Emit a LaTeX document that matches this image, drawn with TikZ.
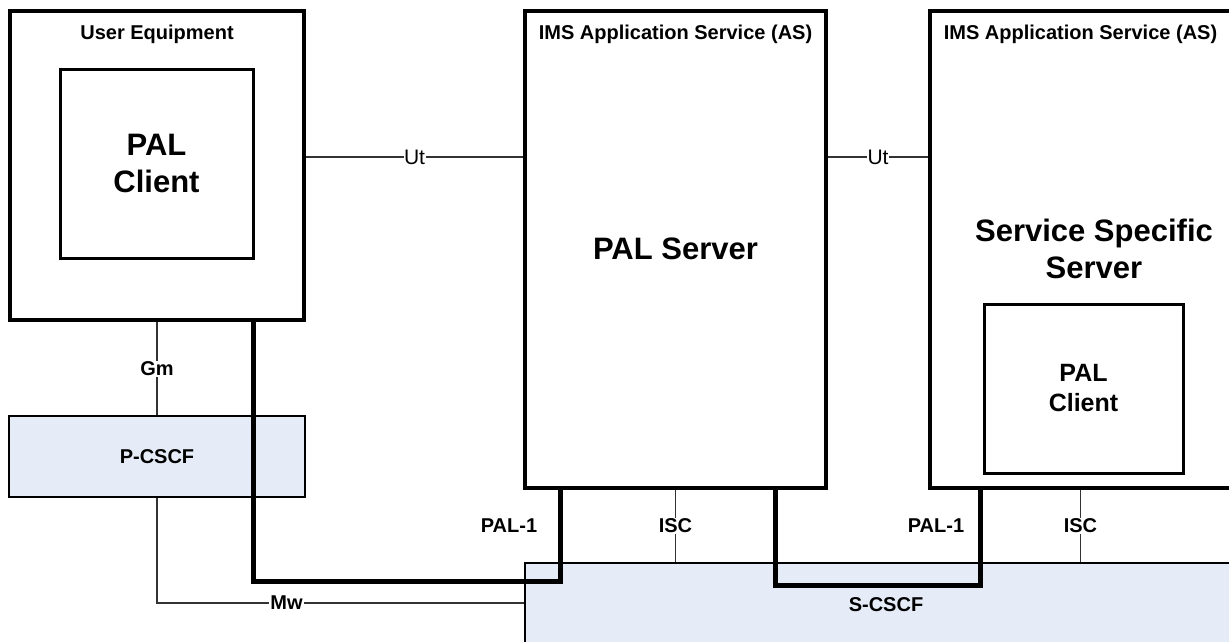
\documentclass[tikz,border=0pt]{standalone}
\usepackage{fontspec}
\setmainfont{Liberation Sans}
\definecolor{cscf}{RGB}{230,236,247}
\begin{document}
\begin{tikzpicture}[x=1pt,y=-1pt,
  outer/.style={draw, line width=4.5pt, inner sep=0pt, fill=white},
  innerbox/.style={draw, line width=3pt, inner sep=0pt, align=center},
  cscfbox/.style={draw, line width=2.2pt, fill=cscf, inner sep=0pt},
  thinline/.style={line width=1.2pt, draw=black!80},
  palpath/.style={line width=5pt, line join=miter},
  lab/.style={font=\fontsize{20}{22}\selectfont\bfseries, fill=white, inner sep=1pt},
  labr/.style={font=\fontsize{21}{22}\selectfont, fill=white, inner sep=0.5pt},
  plain/.style={font=\fontsize{20}{22}\selectfont\bfseries, inner sep=0pt},
  title/.style={font=\fontsize{20}{22}\selectfont\bfseries, anchor=base, inner sep=0pt},
  big/.style={font=\fontsize{31}{37}\selectfont\bfseries, align=center},
  mid/.style={font=\fontsize{25}{30}\selectfont\bfseries, align=center}]
\useasboundingbox (0,0) rectangle (1229,641);
\clip (0,0) rectangle (1229,641);

% boxes
\node[outer, minimum width=294pt, minimum height=309pt] (ue) at (157,165.5) {};
\node[innerbox, big, minimum width=193pt, minimum height=189pt] (uecl) at (156.5,163.5) {PAL\\Client};
\node[title] (uet) at (157,39.5) {User Equipment};

\node[outer, minimum width=301pt, minimum height=477pt] (as1) at (675.5,249.5) {};
\node[title] (as1t) at (675.5,39.5) {IMS Application Service (AS)};
\node[big] (pals) at (675.5,249) {PAL Server};

\node[outer, minimum width=301pt, minimum height=477pt] (as2) at (1080.5,249.5) {};
\node[title] (as2t) at (1080.5,39.5) {IMS Application Service (AS)};
\node[big] (sss) at (1094,249) {Service Specific\\Server};
\node[innerbox, mid, minimum width=199pt, minimum height=169pt] (as2cl) at (1083.5,388.5) {PAL\\Client};

\node[cscfbox, plain, minimum width=296pt, minimum height=81pt] (pcscf) at (157,456.5) {P-CSCF};
\node[cscfbox, minimum width=715pt, minimum height=97pt] (scscf) at (882.5,611.5) {};
\node[plain] (scscft) at (886,605) {S-CSCF};

% thin connectors
\coordinate (ut) at (0,157);
\coordinate (mw) at (0,603);
\draw[thinline] (ue.east |- ut) -- node[labr]{Ut} (as1.west |- ut);
\draw[thinline] (as1.east |- ut) -- node[labr]{Ut} (as2.west |- ut);
\draw[thinline] (ue.south) -- node[lab]{Gm} (pcscf.north);
\draw[thinline] (pcscf.south) -- (pcscf.south |- mw) -- node[lab, pos=0.353]{Mw} (scscf.west |- mw);
\draw[thinline] (as1.south) -- node[lab]{ISC} (as1.south |- scscf.north);
\draw[thinline] (as2.south) -- node[lab]{ISC} (as2.south |- scscf.north);

% PAL-1 thick connectors
\coordinate (k1) at (253,581);
\coordinate (k2) at (560,581);
\coordinate (k3) at (775,585);
\coordinate (k4) at (980,585);
\draw[palpath] (ue.south -| k1) -- (k1) -- (k2) -- (as1.south -| k2);
\draw[palpath] (as1.south -| k3) -- (k3) -- (k4) -- (as2.south -| k4);
\node[plain] (pal1a) at (509,526) {PAL-1};
\node[plain] (pal1b) at (936,526) {PAL-1};
\end{tikzpicture}
\end{document}
